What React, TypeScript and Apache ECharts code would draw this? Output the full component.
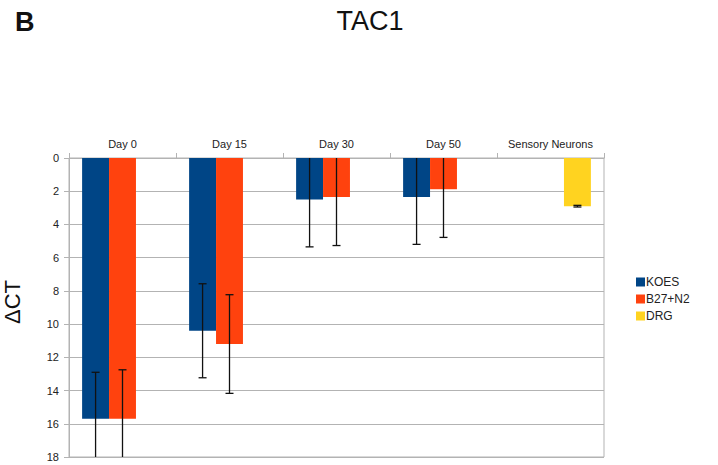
import React, { useEffect, useRef } from "react";
import * as echarts from "echarts";

// Expression of TAC1 (ΔCT) across differentiation stages
const categories = ["Day 0", "Day 15", "Day 30", "Day 50", "Sensory Neurons"];
const koes = [15.7, 10.4, 2.5, 2.35, null];
const koesErr = [2.8, 2.83, 2.85, 2.85, null];
const b27 = [15.7, 11.2, 2.35, 1.88, null];
const b27Err = [2.95, 2.97, 2.92, 2.9, null];
const drg = [null, null, null, null, 2.9];
const drgErr = [null, null, null, null, 0.05];
const yTicks = [0, 2, 4, 6, 8, 10, 12, 14, 16, 18];

const seriesNames = ["KOES", "B27+N2", "DRG"];
const colors = ["#004586", "#ff420e", "#ffd320"];
const CAT_GAP = 0.245;
const Y_MAX = yTicks[yTicks.length - 1];

const errData = (vals: (number | null)[], errs: (number | null)[]) =>
  vals
    .map((v, i) => (v == null ? null : [i, v, errs[i] as number]))
    .filter((d) => d != null) as number[][];

const errorSeries = (data: number[][], slot: number) => ({
  type: "custom",
  z: 10,
  silent: true,
  encode: { x: 0, y: 1 },
  data,
  renderItem: (params: any, api: any) => {
    const idx = api.value(0);
    const v = api.value(1);
    const e = api.value(2);
    const c = api.coord([idx, v]);
    const catW = api.size([1, 0])[0];
    const barW = (catW * (1 - CAT_GAP)) / 3;
    const x = c[0] + (slot - 1) * barW;
    const lo = Math.max(0, v - e);
    const hi = Math.min(Y_MAX, v + e);
    const y1 = api.coord([idx, lo])[1];
    const y2 = api.coord([idx, hi])[1];
    const style = { stroke: "#111", lineWidth: 1.3 };
    const children: any[] = [
      { type: "line", shape: { x1: x, y1, x2: x, y2 }, style },
    ];
    const cap = 4;
    if (v - e >= 0)
      children.push({ type: "line", shape: { x1: x - cap, y1, x2: x + cap, y2: y1 }, style });
    if (v + e <= Y_MAX)
      children.push({ type: "line", shape: { x1: x - cap, y1: y2, x2: x + cap, y2 }, style });
    return { type: "group", children };
  },
});

export default function App() {
  const ref = useRef<HTMLDivElement>(null);

  useEffect(() => {
    if (!ref.current) return;
    const chart = echarts.init(ref.current, undefined, { renderer: "svg" });
    const font = "'Liberation Sans', Arial, sans-serif";
    const values = [koes, b27, drg];
    chart.setOption({
      animation: false,
      backgroundColor: "#ffffff",
      textStyle: { fontFamily: font },
      title: [
        {
          text: "TAC1",
          left: 365,
          top: 2,
          textAlign: "center",
          textStyle: { fontSize: 27, fontWeight: "normal", color: "#111", fontFamily: font },
        },
        {
          text: "B",
          left: 10,
          top: 3,
          textStyle: { fontSize: 27, fontWeight: "bold", color: "#111", fontFamily: font },
        },
      ],
      graphic: [
        {
          type: "text",
          x: 12,
          y: 302,
          rotation: Math.PI / 2,
          style: {
            text: "ΔCT",
            fontSize: 22,
            fontFamily: font,
            fill: "#111",
            align: "center",
            verticalAlign: "middle",
          },
        },
      ],
      legend: {
        orient: "vertical",
        left: 631,
        top: 271,
        itemWidth: 9,
        itemHeight: 9,
        itemGap: 5,
        icon: "rect",
        data: seriesNames,
        textStyle: { fontSize: 12, color: "#222", padding: [0, 0, 0, -4] },
      },
      grid: {
        left: 69,
        right: 114,
        top: 158,
        bottom: 8,
        show: true,
        borderColor: "#b3b3b3",
        borderWidth: 1,
      },
      xAxis: {
        type: "category",
        position: "top",
        data: categories,
        axisLine: { show: true, lineStyle: { color: "#b3b3b3" } },
        axisTick: { show: true, length: 5, lineStyle: { color: "#b3b3b3" } },
        axisLabel: { fontSize: 11, color: "#222", margin: 9, interval: 0 },
        splitLine: { show: false },
      },
      yAxis: {
        type: "value",
        inverse: true,
        min: 0,
        max: Y_MAX,
        interval: 2,
        axisLine: { show: true, lineStyle: { color: "#b3b3b3" } },
        axisTick: { show: true, length: 5, lineStyle: { color: "#b3b3b3" } },
        axisLabel: { fontSize: 11, color: "#222", margin: 10 },
        splitLine: { show: true, lineStyle: { color: "#b3b3b3", width: 1 } },
      },
      series: [
        ...seriesNames.map((name, i) => ({
          name,
          type: "bar",
          data: values[i],
          barGap: "0%",
          barCategoryGap: CAT_GAP * 100 + "%",
          itemStyle: { color: colors[i] },
        })),
        errorSeries(errData(koes, koesErr), 0),
        errorSeries(errData(b27, b27Err), 1),
        errorSeries(errData(drg, drgErr), 2),
      ],
    });
    return () => chart.dispose();
  }, []);

  return (
    <div
      ref={ref}
      style={{ position: "fixed", left: 0, top: 0, width: 718, height: 465 }}
    />
  );
}
